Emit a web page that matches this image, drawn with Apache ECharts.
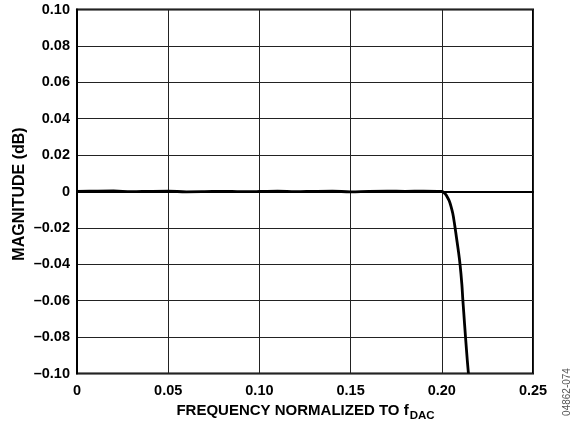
<!DOCTYPE html>
<html><head><meta charset="utf-8">
<script src="https://cdn.jsdelivr.net/npm/echarts@6/dist/echarts.min.js"></script>
<style>html,body{margin:0;padding:0;background:#fff}#c{width:584px;height:423px}</style>
</head><body><div id="c"></div>
<script>
var freq = [0, 0.01, 0.02, 0.03, 0.04, 0.05, 0.06, 0.07, 0.08, 0.09, 0.10, 0.11, 0.12, 0.13, 0.14, 0.15, 0.16, 0.17, 0.18, 0.19, 0.20,
  0.201, 0.202, 0.203, 0.204, 0.205, 0.206, 0.207, 0.208, 0.209, 0.210, 0.211, 0.2115, 0.212, 0.213, 0.214, 0.2146];
var magnitude = [0, 0.0002, 0.0003, -0.0001, 0.0001, 0.0002, -0.0002, -0.0001, 0.0001, -0.0001, 0, 0.0002, -0.0001, 0.0001, 0.0002, -0.0002, 0.0001, 0.0002, 0.0001, 0.0002, 0,
  -0.0005, -0.0015, -0.003, -0.005, -0.008, -0.012, -0.018, -0.025, -0.032, -0.040, -0.051, -0.059, -0.066, -0.080, -0.093, -0.100];
var xTicks = ['0', '0.05', '0.10', '0.15', '0.20', '0.25'];
var yTicks = ['\u20130.10', '\u20130.08', '\u20130.06', '\u20130.04', '\u20130.02', '0', '0.02', '0.04', '0.06', '0.08', '0.10'];

var FONT = '"Liberation Sans", Arial, sans-serif';
var chart = echarts.init(document.getElementById('c'), null, {renderer: 'canvas'});
var pts = freq.map(function (f, i) { return [f, magnitude[i]]; });
chart.setOption({
  animation: false,
  grid: {left: 77, right: 51, top: 9.5, bottom: 49.5, show: true, borderColor: '#000', borderWidth: 2},
  xAxis: {
    type: 'value', min: 0, max: 0.25, interval: 0.05,
    axisLine: {show: true, lineStyle: {color: '#000', width: 2}},
    axisTick: {show: false},
    splitLine: {show: true, lineStyle: {color: '#222', width: 1}},
    axisLabel: {
      color: '#000', fontFamily: FONT, fontWeight: 'bold', fontSize: 14.5, margin: 10,
      formatter: function (v) { return xTicks[Math.round(v / 0.05)]; }
    }
  },
  yAxis: {
    type: 'value', min: -0.1, max: 0.1, interval: 0.02,
    axisLine: {show: true, lineStyle: {color: '#000', width: 2}},
    axisTick: {show: false},
    splitLine: {show: true, lineStyle: {color: '#222', width: 1}},
    axisLabel: {
      color: '#000', fontFamily: FONT, fontWeight: 'bold', fontSize: 14.5, margin: 7,
      formatter: function (v) { return yTicks[Math.round((v + 0.1) / 0.02)]; }
    }
  },
  series: [{
    type: 'line', data: pts, showSymbol: false, smooth: 0.4, clip: true,
    lineStyle: {color: '#000', width: 2.8}
  }],
  graphic: [
    {type: 'text', x: 19.5, y: 194, rotation: Math.PI / 2,
      style: {text: 'MAGNITUDE (dB)', font: 'bold 16px ' + FONT, fill: '#000', textAlign: 'center', textVerticalAlign: 'middle'}},
    {type: 'text', x: 305.5, y: 411,
      style: {text: 'FREQUENCY NORMALIZED TO f{s|DAC}', font: 'bold 15px ' + FONT, fill: '#000', textAlign: 'center', textVerticalAlign: 'middle',
        rich: {s: {font: 'bold 11.5px ' + FONT, fill: '#000', padding: [9, 0, 0, 1]}}}},
    {type: 'text', x: 567.5, y: 392, rotation: Math.PI / 2,
      style: {text: '04862-074', font: '10px ' + FONT, fill: '#555', textAlign: 'center', textVerticalAlign: 'middle'}}
  ]
});
</script></body></html>
